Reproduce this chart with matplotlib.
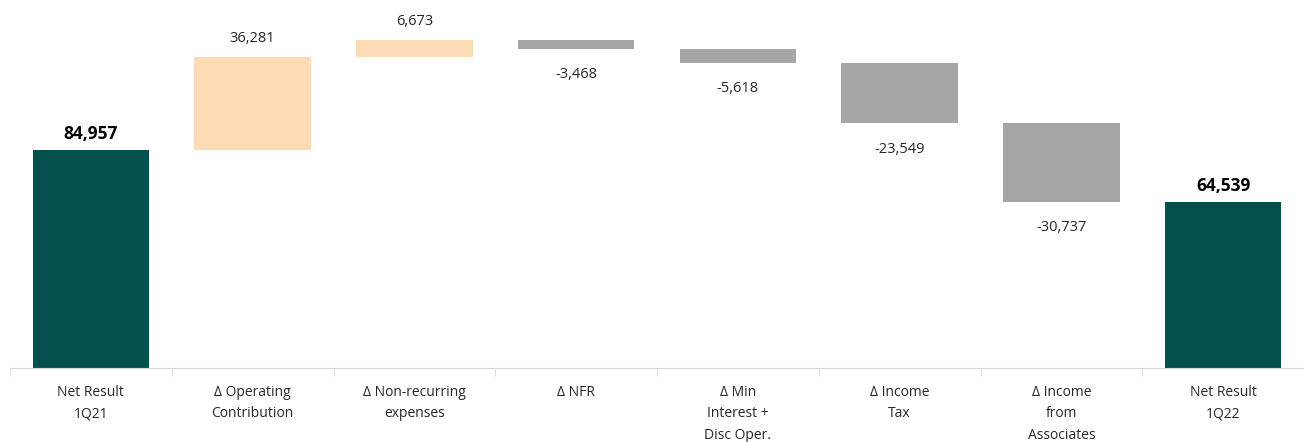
import numpy as np
import matplotlib.pyplot as plt

plt.rcParams['font.family'] = ['Open Sans', 'DejaVu Sans']

categories = ["Net Result\n1Q21", "\u0394 Operating\nContribution", "\u0394 Non-recurring\nexpenses",
              "\u0394 NFR", "\u0394 Min\nInterest +\nDisc Oper.", "\u0394 Income\nTax",
              "\u0394 Income\nfrom\nAssociates", "Net Result\n1Q22"]
values = [84957, 36281, 6673, -3468, -5618, -23549, -30737, 64539]
is_total = [True, False, False, False, False, False, False, True]

teal = "#03504F"
peach = "#FDDCB5"
grey = "#A6A6A6"

fig = plt.figure(figsize=(13.04, 4.42), dpi=100)
ax = fig.add_axes([10 / 1304, 74 / 442, 1 - 10 / 1304, 1 - 74 / 442])

x = np.arange(len(values))
running = 0
for i, v in enumerate(values):
    if is_total[i]:
        ax.bar(i, v, width=0.72, color=teal)
        ax.annotate(f"{v:,}", (i, v), xytext=(0, 5), textcoords="offset points",
                    ha="center", va="bottom", fontsize=12.5, fontweight="bold", color="black")
        running = v
    else:
        bottom = running if v > 0 else running + v
        ax.bar(i, abs(v), bottom=bottom, width=0.72, color=peach if v > 0 else grey)
        if v > 0:
            ax.annotate(f"{v:,}", (i, running + v), xytext=(0, 8), textcoords="offset points",
                        ha="center", va="bottom", fontsize=10.5, color="#262626")
        else:
            ax.annotate(f"{v:,}", (i, running + v), xytext=(0, -13), textcoords="offset points",
                        ha="center", va="top", fontsize=10.5, color="#262626")
        running += v

ax.set_xlim(-0.5, 7.416)
ax.set_ylim(0, 143400)
for s in ["top", "right", "left"]:
    ax.spines[s].set_visible(False)
ax.spines["bottom"].set_color("#D9D9D9")
ax.set_yticks([])
ax.set_xticks(x)
ax.set_xticklabels(categories, fontsize=10, color="#262626", linespacing=1.6)
ax.tick_params(axis="x", which="major", length=0, pad=12)
ax.set_xticks(np.arange(-0.5, 8, 1), minor=True)
ax.tick_params(axis="x", which="minor", length=6, color="#D9D9D9")

fig.savefig("out.png", dpi=100)
